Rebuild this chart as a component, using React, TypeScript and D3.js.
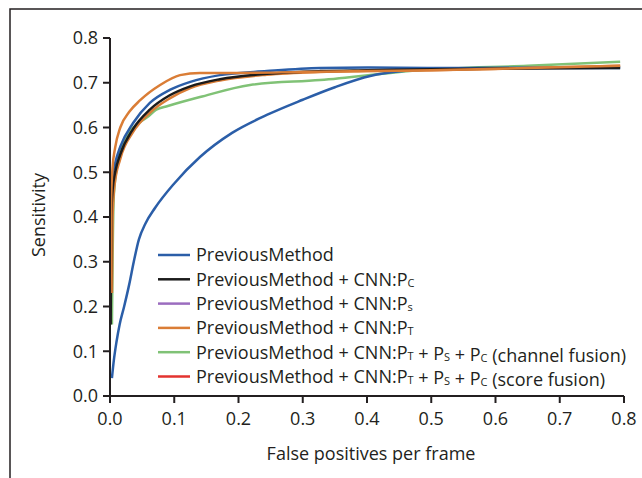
import React from 'react';
import * as d3 from 'd3';

// false positives per frame vs sensitivity
const prevMethod: [number, number][] = [
  [0.003, 0.04], [0.006, 0.08], [0.01, 0.12], [0.015, 0.16], [0.022, 0.2], [0.03, 0.25],
  [0.037, 0.3], [0.045, 0.35], [0.055, 0.385], [0.07, 0.42], [0.1, 0.475], [0.14, 0.534],
  [0.19, 0.588], [0.244, 0.628], [0.3, 0.662], [0.35, 0.69], [0.405, 0.715], [0.456, 0.726],
  [0.5, 0.73], [0.6, 0.733], [0.7, 0.734], [0.794, 0.735],
];
const cnnPc: [number, number][] = [
  [0.001, 0.16], [0.002, 0.4], [0.004, 0.46], [0.008, 0.5], [0.016, 0.54], [0.036, 0.597],
  [0.062, 0.64], [0.093, 0.672], [0.125, 0.692], [0.171, 0.708], [0.244, 0.72], [0.327, 0.726],
  [0.4, 0.728], [0.5, 0.73], [0.65, 0.732], [0.794, 0.733],
];
const cnnPs: [number, number][] = [
  [0.001, 0.3], [0.002, 0.44], [0.004, 0.49], [0.008, 0.52], [0.016, 0.557], [0.036, 0.61],
  [0.062, 0.655], [0.093, 0.684], [0.125, 0.702], [0.171, 0.717], [0.244, 0.726], [0.327, 0.733],
  [0.4, 0.734], [0.5, 0.733], [0.65, 0.733], [0.794, 0.733],
];
const cnnPt: [number, number][] = [
  [0.001, 0.23], [0.002, 0.45], [0.004, 0.51], [0.008, 0.555], [0.016, 0.6], [0.03, 0.635],
  [0.047, 0.661], [0.078, 0.695], [0.109, 0.717], [0.14, 0.722], [0.2, 0.722], [0.3, 0.724],
  [0.4, 0.726], [0.5, 0.728], [0.65, 0.733], [0.794, 0.738],
];
const channelFusion: [number, number][] = [
  [0.003, 0.16], [0.004, 0.3], [0.006, 0.45], [0.012, 0.52], [0.02, 0.565], [0.03, 0.59],
  [0.047, 0.612], [0.06, 0.625], [0.072, 0.64], [0.09, 0.648], [0.14, 0.668], [0.218, 0.695],
  [0.327, 0.706], [0.482, 0.728], [0.65, 0.738], [0.794, 0.747],
];
const scoreFusion: [number, number][] = [
  [0.003, 0.23], [0.004, 0.4], [0.007, 0.47], [0.016, 0.53], [0.036, 0.59], [0.062, 0.633],
  [0.093, 0.665], [0.125, 0.688], [0.171, 0.705], [0.244, 0.718], [0.327, 0.724], [0.4, 0.726],
  [0.5, 0.728], [0.6, 0.731], [0.794, 0.738],
];

const xTicks = [0, 0.1, 0.2, 0.3, 0.4, 0.5, 0.6, 0.7, 0.8];
const yTicks = [0, 0.1, 0.2, 0.3, 0.4, 0.5, 0.6, 0.7, 0.8];

// legend label: main text + subscript pieces
const legendLabels: [string, string][][] = [
  [['PreviousMethod', '']],
  [['PreviousMethod + CNN:P', 'C']],
  [['PreviousMethod + CNN:P', 's']],
  [['PreviousMethod + CNN:P', 'T']],
  [['PreviousMethod + CNN:P', 'T'], [' + P', 'S'], [' + P', 'C'], [' (channel fusion)', '']],
  [['PreviousMethod + CNN:P', 'T'], [' + P', 'S'], [' + P', 'C'], [' (score fusion)', '']],
];
const legendColors = ['#2b5ea8', '#1b1b1b', '#9b6cbf', '#da7d36', '#80c276', '#e3332f'];
// colours the curves appear with in the plot itself
const seriesData = [prevMethod, cnnPc, cnnPs, cnnPt, channelFusion, scoreFusion];
const plotColors = ['#2b5ea8', '#1b1b1b', '#2b5ea8', '#da7d36', '#80c276', '#da7d36'];
const drawOrder = [4, 0, 2, 5, 1, 3];

const W = 642;
const H = 478;
const font = '"Open Sans", "Noto Sans", sans-serif';

export default function App() {
  const x = d3.scaleLinear().domain([0, 0.8]).range([110, 624]);
  const y = d3.scaleLinear().domain([0, 0.8]).range([396, 38]);
  const line = d3
    .line<[number, number]>()
    .x((d) => x(d[0]))
    .y((d) => y(d[1]))
    .curve(d3.curveMonotoneX);

  return (
    <svg width={W} height={H} style={{ position: 'absolute', left: 0, top: 0, background: '#fff' }}>
      <rect x={10} y={9} width={W + 20} height={H + 20} fill="#fff" stroke="#231f20" strokeWidth={1.5} />

      {/* curves */}
      <g fill="none" strokeWidth={2.5} strokeLinejoin="round">
        {drawOrder.map((i) => (
          <path key={i} d={line(seriesData[i]) || ''} stroke={plotColors[i]} />
        ))}
      </g>

      {/* axes */}
      <g stroke="#231f20" strokeWidth={2} fill="none">
        <line x1={x(0)} x2={x(0)} y1={y(0.8)} y2={y(0)} />
        <line x1={x(0)} x2={x(0.8)} y1={y(0)} y2={y(0)} />
        {yTicks.map((t) => (
          <line key={'yt' + t} x1={x(0) - 7} x2={x(0)} y1={y(t)} y2={y(t)} />
        ))}
        {xTicks.map((t) => (
          <line key={'xt' + t} x1={x(t)} x2={x(t)} y1={y(0)} y2={y(0) + 7} />
        ))}
      </g>
      <g fontFamily={font} fontSize={18} fill="#231f20">
        {yTicks.map((t) => (
          <text key={'yl' + t} x={x(0) - 12} y={y(t)} dy="0.35em" textAnchor="end">
            {t.toFixed(1)}
          </text>
        ))}
        {xTicks.map((t) => (
          <text key={'xl' + t} x={x(t)} y={y(0) + 29} textAnchor="middle">
            {t.toFixed(1)}
          </text>
        ))}
        <text x={371} y={460} textAnchor="middle">False positives per frame</text>
        <text transform="translate(45,215) rotate(-90)" textAnchor="middle">Sensitivity</text>
      </g>

      {/* legend */}
      <g fontFamily={font} fontSize={18} fill="#231f20">
        {legendLabels.map((parts, i) => {
          const ly = 255 + i * 24.3;
          return (
            <g key={i}>
              <line x1={158} x2={190} y1={ly} y2={ly} stroke={legendColors[i]} strokeWidth={2.5} />
              <text x={196} y={ly} dy="0.35em">
                {parts.map(([main, sub], j) => (
                  <React.Fragment key={j}>
                    <tspan fontSize={18}>{main}</tspan>
                    {sub && (
                      <tspan fontSize={11} dy={1}>{sub}</tspan>
                    )}
                    {sub && <tspan fontSize={18} dy={-1}>{''}</tspan>}
                  </React.Fragment>
                ))}
              </text>
            </g>
          );
        })}
      </g>
    </svg>
  );
}
